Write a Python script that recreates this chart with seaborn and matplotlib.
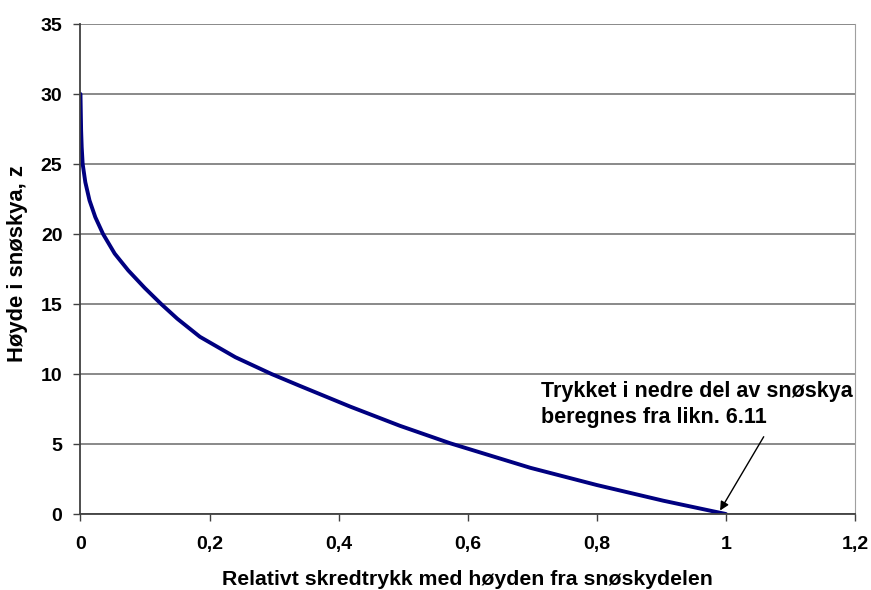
import matplotlib
matplotlib.use('Agg')
import matplotlib.pyplot as plt
import seaborn as sns

# values
rel_trykk = [0.0, 0.001, 0.0019, 0.0034, 0.0075, 0.014, 0.023, 0.035, 0.053,
             0.074, 0.0995, 0.125, 0.15, 0.185, 0.24, 0.296, 0.340, 0.418,
             0.495, 0.573, 0.697, 0.80, 0.903, 1.0]
hoyde = [30.0, 27.4, 26.2, 25.0, 23.7, 22.4, 21.2, 20.0, 18.6,
         17.4, 16.15, 15.0, 13.95, 12.66, 11.2, 10.0, 9.15, 7.67,
         6.3, 5.05, 3.3, 2.07, 0.95, 0.0]

x_ticks = [0, 0.2, 0.4, 0.6, 0.8, 1.0, 1.2]
x_ticklabels = ['0', '0,2', '0,4', '0,6', '0,8', '1', '1,2']
y_ticks = [0, 5, 10, 15, 20, 25, 30, 35]

sns.set_style('white')
plt.rcParams['font.family'] = ['Liberation Sans', 'DejaVu Sans']
plt.rcParams['font.weight'] = 'bold'
plt.rcParams['text.color'] = 'black'
plt.rcParams['axes.labelcolor'] = 'black'
plt.rcParams['xtick.labelcolor'] = 'black'
plt.rcParams['ytick.labelcolor'] = 'black'

fig = plt.figure(figsize=(8.71, 5.90), dpi=100)
ax = fig.add_axes([0.0924, 0.1288, 0.8892, 0.8305])

sns.lineplot(x=rel_trykk, y=hoyde, estimator=None, color='#000080', linewidth=2.8, ax=ax)

ax.set_xlim(0, 1.2)
ax.set_ylim(0, 35)
ax.set_xticks(x_ticks)
ax.set_xticklabels(x_ticklabels)
ax.set_yticks(y_ticks)
ax.grid(axis='y', color='#808080', linewidth=1.3)
ax.set_axisbelow(True)

ax.spines['top'].set_visible(False)
ax.spines['right'].set_color('#a0a0a0')
ax.spines['left'].set_color('#404040')
ax.spines['bottom'].set_color('#404040')
ax.spines['left'].set_linewidth(1.3)
ax.spines['bottom'].set_linewidth(1.3)

ax.tick_params(axis='both', direction='out', length=5, width=1, color='#404040',
               labelcolor='black', labelsize=14, bottom=True, left=True)
ax.tick_params(axis='x', pad=11)
ax.tick_params(axis='y', pad=8)
for lbl in ax.get_xticklabels() + ax.get_yticklabels():
    lbl.set_fontweight('bold')

ax.set_xlabel('Relativt skredtrykk med høyden fra snøskydelen', fontsize=15.3,
              fontweight='bold', color='black')
ax.set_ylabel('Høyde i snøskya, z', fontsize=15.8, fontweight='bold', color='black')
ax.xaxis.set_label_coords(0.5, -0.115)
ax.yaxis.set_label_coords(-0.068, 0.512)

ax.text(0.714, 9.5, 'Trykket i nedre del av snøskya\nberegnes fra likn. 6.11',
        fontsize=15.5, fontweight='bold', ha='left', va='top', linespacing=1.3,
        color='black')
ax.annotate('', xy=(0.991, 0.25), xytext=(1.0586, 5.52),
            arrowprops=dict(arrowstyle='-|>', color='black', lw=1, mutation_scale=13,
                            shrinkA=0, shrinkB=0))

fig.savefig('out.png', dpi=100)
